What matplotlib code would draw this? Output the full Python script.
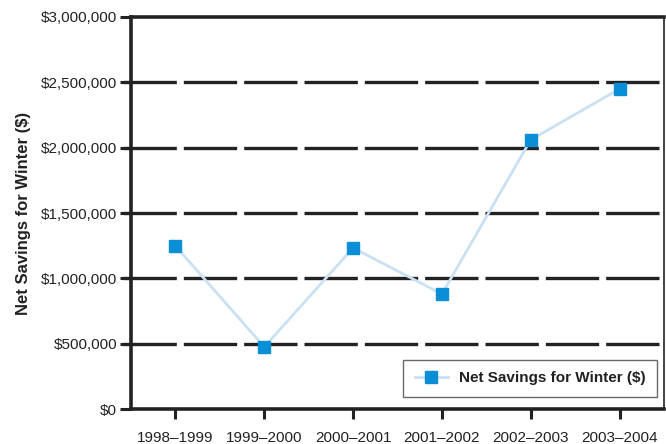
import numpy as np
import matplotlib.pyplot as plt
from matplotlib.ticker import FuncFormatter

plt.rcParams['font.family'] = ['Liberation Sans', 'DejaVu Sans']

seasons = ['1998\u20131999', '1999\u20132000', '2000\u20132001',
           '2001\u20132002', '2002\u20132003', '2003\u20132004']
savings = [1248000, 475000, 1233000, 880000, 2060000, 2450000]

fig = plt.figure(figsize=(6.66, 4.44), dpi=100)
ax = fig.add_axes([131 / 666, 35 / 444, 533 / 666, 392 / 444])

x = np.arange(len(seasons)) + 0.5

# long dashed grid, drawn from the tick so the gaps fall like the original
for v in np.arange(500000, 3000000, 500000):
    ax.plot([-8 / 88.8, 6], [v, v], color='#222222', lw=2.4, dashes=(16.0, 2.1),
            dash_capstyle='butt', solid_capstyle='butt', zorder=1, clip_on=False)

ax.plot(x, savings, color='#c9e1f3', lw=2, marker='s', markersize=8.5,
        markerfacecolor='#0a8fd6', markeredgecolor='#0a8fd6', zorder=3,
        label='Net Savings for Winter ($)')

ax.set_xlim(0, 6)
ax.set_ylim(0, 3000000)
ax.set_xticks(x)
ax.set_xticklabels(seasons)
ax.set_yticks(np.arange(0, 3000001, 500000))
ax.yaxis.set_major_formatter(FuncFormatter(lambda v, p: '${:,.0f}'.format(v)))
ax.tick_params(axis='both', labelsize=11, colors='#222222', width=2.2, length=7)
ax.tick_params(axis='y', length=8, pad=2)
ax.tick_params(axis='x', pad=9)

for side in ['left', 'bottom', 'top']:
    ax.spines[side].set_linewidth(2.6)
    ax.spines[side].set_color('#222222')
ax.spines['right'].set_linewidth(1.2)
ax.spines['right'].set_color('#222222')

ax.set_ylabel('Net Savings for Winter ($)', fontsize=12, fontweight='bold',
              color='#222222', labelpad=7)

leg = ax.legend(loc='lower right', bbox_to_anchor=(0.987, 0.031),
                prop={'weight': 'bold', 'size': 11}, fancybox=False,
                borderpad=0.75, handlelength=2.2, handletextpad=0.7,
                borderaxespad=0)
leg.get_frame().set_edgecolor('#444444')
leg.get_frame().set_linewidth(1)
for t in leg.get_texts():
    t.set_color('#222222')

fig.savefig('out.png', dpi=100)
